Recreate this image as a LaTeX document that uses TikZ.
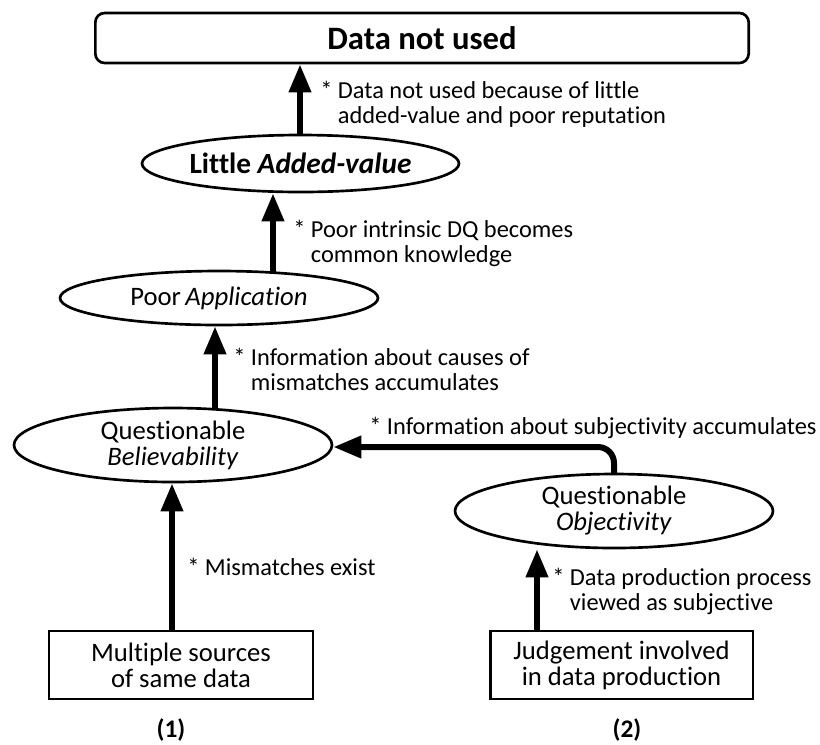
\documentclass[tikz,border=0pt]{standalone}
\usepackage{fontspec}
\setmainfont{Carlito}[Ligatures=NoCommon]
\usetikzlibrary{shapes.geometric,arrows.meta}
% two stacked lines whose baseline is the first line's
\newcommand\twoline[2]{\vtop{\hbox{#1}\hbox{#2}}}
\begin{document}
\begin{tikzpicture}[x=0.75pt,y=-0.75pt,
  ell/.style={ellipse,draw,line width=2pt,fill=white,inner sep=0pt,align=center,
    font=\fontsize{20}{19.5}\selectfont},
  sbox/.style={rectangle,draw,line width=2pt,fill=white,inner sep=0pt,align=center,
    font=\fontsize{20}{19.5}\selectfont},
  flow/.style={line width=4.5pt,-{Triangle[length=21pt,width=16pt]}},
  note/.style={anchor=base west,inner sep=0pt,font=\fontsize{18.3}{19.2}\selectfont},
  tag/.style={inner sep=0pt,font=\bfseries\fontsize{19}{20}\selectfont}
]
\useasboundingbox (0,0) rectangle (820,744);

% x positions of the vertical connectors, y of the side connector
\coordinate (x1) at (300,0);
\coordinate (x2) at (273,0);
\coordinate (x3) at (215,0);
\coordinate (x4) at (172,0);
\coordinate (x5) at (537,0);
\coordinate (hy) at (0,447);

% nodes
\node[sbox,rounded corners=7pt,minimum width=490pt,minimum height=37.5pt,
  font=\bfseries\fontsize{24.5}{26}\selectfont] (top) at (422,38) {Data not used};
\node[ell,minimum width=237.75pt,minimum height=42.75pt,font=\bfseries\fontsize{22}{24}\selectfont]
  (lav) at (300.5,163.5) {Little \textit{Added-value}};
\node[ell,minimum width=238.5pt,minimum height=40.5pt] (pa) at (219,298)
  {Poor\,\textit{Application}};
\node[ell,minimum width=238.5pt,minimum height=55.5pt] (bel) at (173,445)
  {Questionable\\\textit{Believability}};
\node[ell,minimum width=238.5pt,minimum height=55.5pt] (obj) at (614,511)
  {Questionable\\\textit{Objectivity}};
\node[sbox,minimum width=198pt,minimum height=51pt] (ms) at (181,665)
  {Multiple sources\\of same data};
\node[sbox,minimum width=197pt,minimum height=51pt] (jd) at (621.5,665)
  {Judgement involved\\in data production};

% connectors
\draw[flow,shorten <=-2pt] (lav.north -| x1) -- (top.south -| x1);
\draw[flow,shorten <=-2pt] (pa.north -| x2) -- (lav.south -| x2);
\draw[flow,shorten <=-2pt] (bel.north -| x3) -- (pa.south -| x3);
\draw[flow,shorten <=-1pt] (ms.north -| x4) -- (bel.south -| x4);
\draw[flow,shorten <=-1pt] (jd.north -| x5) -- (obj.south -| x5);
\draw[flow,rounded corners=12pt,shorten <=-1pt] (obj.north) |- (bel.east |- hy);

% connector notes
\node[note] (n1) at (320,98) {\twoline{* Data not used because of little}{\phantom{* }added-value and poor reputation}};
\node[note] (n2) at (293,237) {\twoline{* Poor intrinsic DQ becomes}{\phantom{* }common knowledge}};
\node[note] (n3) at (233,365) {\twoline{* Information about causes of}{\phantom{* }mismatches accumulates}};
\node[note] (n4) at (369,434) {* Information about subjectivity accumulates};
\node[note] (n5) at (187,575) {* Mismatches exist};
\node[note] (n6) at (552,585) {\twoline{* Data production process}{\phantom{* }viewed as subjective}};

% column tags
\node[tag] (t1) at (171,730) {(1)};
\node[tag] (t2) at (627,730) {(2)};
\end{tikzpicture}
\end{document}
